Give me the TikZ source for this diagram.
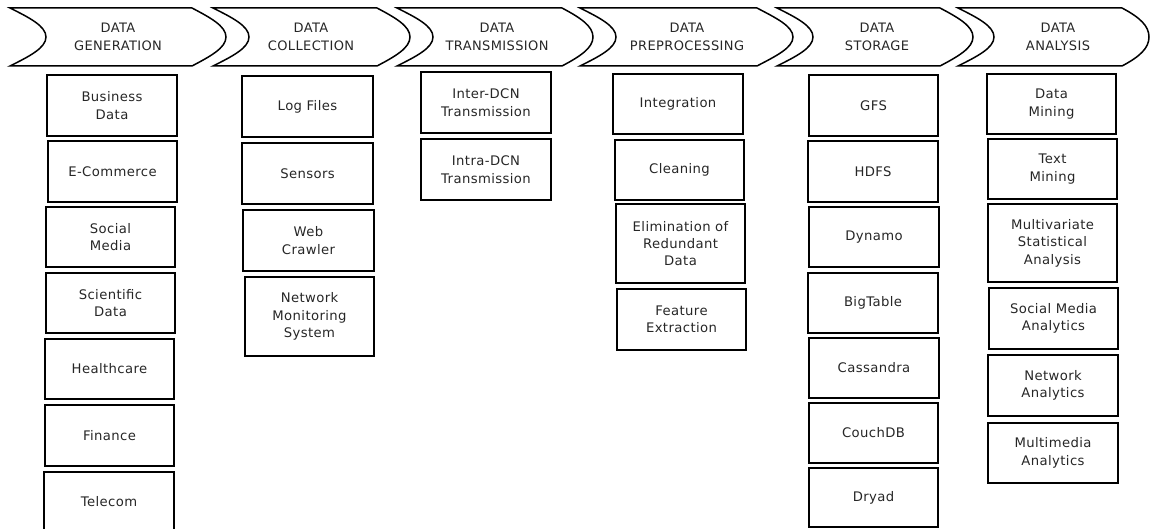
\documentclass[tikz,border=0pt]{standalone}
\usepackage{fontspec}
\setmainfont{DejaVu Sans}[LetterSpace=3]
\begin{document}
\begin{tikzpicture}[x=1pt,y=-1pt,
  chev/.style={draw=black,line width=1.5pt,line join=miter},
  chevtxt/.style={align=center,inner sep=0pt,text=black!85,font=\fontsize{13}{18}\selectfont},
  bx/.style={draw=black,line width=1.8pt,align=center,inner sep=0pt,text=black!85,
             font=\fontsize{13.2}{17.4}\selectfont}]
\useasboundingbox (0,0) rectangle (1151,529);
% chevrons: left x, top-right corner x, tip x
\foreach \L/\C/\T in {10/192/226, 213/377/410, 397/562/593, 580/757/793, 777/940/973, 958/1122/1149}{
  \draw[chev] (\L,8) -- (\C,8) .. controls (\C+18,17.5) and (\T,26) .. (\T,37)
     .. controls (\T,48) and (\C+18,56.5) .. (\C,66) -- (\L,66)
     .. controls (\L+19,56.5) and (\L+36,48) .. (\L+36,37)
     .. controls (\L+36,26) and (\L+19,17.5) .. (\L,8) -- cycle;
}
\node[chevtxt] (h1) at (118,37) {DATA\\GENERATION};
\node[chevtxt] (h2) at (311,37) {DATA\\COLLECTION};
\node[chevtxt] (h3) at (497,37) {DATA\\TRANSMISSION};
\node[chevtxt] (h4) at (687,37) {DATA\\PREPROCESSING};
\node[chevtxt] (h5) at (877,37) {DATA\\STORAGE};
\node[chevtxt] (h6) at (1058,37) {DATA\\ANALYSIS};
% column 1
\node[bx,minimum width=130pt,minimum height=61pt] (bd) at (112,105.5) {Business\\Data};
\node[bx,minimum width=129pt,minimum height=61pt] (ec) at (112.5,171.5) {E-Commerce};
\node[bx,minimum width=129pt,minimum height=60pt] (sm) at (110.5,237) {Social\\Media};
\node[bx,minimum width=129pt,minimum height=60pt] (sd) at (110.5,303) {Scientific\\Data};
\node[bx,minimum width=129pt,minimum height=60pt] (hc) at (109.5,369) {Healthcare};
\node[bx,minimum width=129pt,minimum height=61pt] (fi) at (109.5,435.5) {Finance};
\node[bx,minimum width=130pt,minimum height=76pt] (te) at (109,510) {};
\node[inner sep=0pt,text=black!85,font=\fontsize{13.2}{17.4}\selectfont] (tet) at (109,502) {Telecom};
% column 2
\node[bx,minimum width=131pt,minimum height=61pt] (lf) at (307.5,106.5) {Log Files};
\node[bx,minimum width=131pt,minimum height=61pt] (se) at (307.5,173.5) {Sensors};
\node[bx,minimum width=131pt,minimum height=61pt] (wc) at (308.5,240.5) {Web\\Crawler};
\node[bx,minimum width=129pt,minimum height=79pt] (nm) at (309.5,316.5) {Network\\Monitoring\\System};
% column 3
\node[bx,minimum width=130pt,minimum height=61pt] (inter) at (486,102.5) {Inter-DCN\\Transmission};
\node[bx,minimum width=130pt,minimum height=61pt] (intra) at (486,169.5) {Intra-DCN\\Transmission};
% column 4
\node[bx,minimum width=130pt,minimum height=60pt] (ig) at (678,104) {Integration};
\node[bx,minimum width=129pt,minimum height=60pt] (cl) at (679.5,170) {Cleaning};
\node[bx,minimum width=129pt,minimum height=79pt] (el) at (680.5,243.5) {Elimination of\\Redundant\\Data};
\node[bx,minimum width=129pt,minimum height=61pt] (fe) at (681.5,319.5) {Feature\\Extraction};
% column 5
\node[bx,minimum width=129pt,minimum height=61pt] (gfs) at (873.5,105.5) {GFS};
\node[bx,minimum width=130pt,minimum height=61pt] (hdfs) at (873,171.5) {HDFS};
\node[bx,minimum width=130pt,minimum height=60pt] (dyn) at (874,237) {Dynamo};
\node[bx,minimum width=130pt,minimum height=60pt] (bt) at (873,303) {BigTable};
\node[bx,minimum width=130pt,minimum height=60pt] (cas) at (874,368) {Cassandra};
\node[bx,minimum width=129pt,minimum height=60pt] (cdb) at (873.5,433) {CouchDB};
\node[bx,minimum width=129pt,minimum height=59pt] (dry) at (873.5,497.5) {Dryad};
% column 6
\node[bx,minimum width=129pt,minimum height=60pt] (dm) at (1051.5,104) {Data\\Mining};
\node[bx,minimum width=129pt,minimum height=60pt] (tm) at (1052.5,169) {Text\\Mining};
\node[bx,minimum width=129pt,minimum height=78pt] (mv) at (1052.5,243) {Multivariate\\Statistical\\Analysis};
\node[bx,minimum width=129pt,minimum height=61pt] (sma) at (1053.5,318.5) {Social Media\\Analytics};
\node[bx,minimum width=130pt,minimum height=61pt] (na) at (1053,385.5) {Network\\Analytics};
\node[bx,minimum width=130pt,minimum height=60pt] (mma) at (1053,453) {Multimedia\\Analytics};
\end{tikzpicture}
\end{document}
